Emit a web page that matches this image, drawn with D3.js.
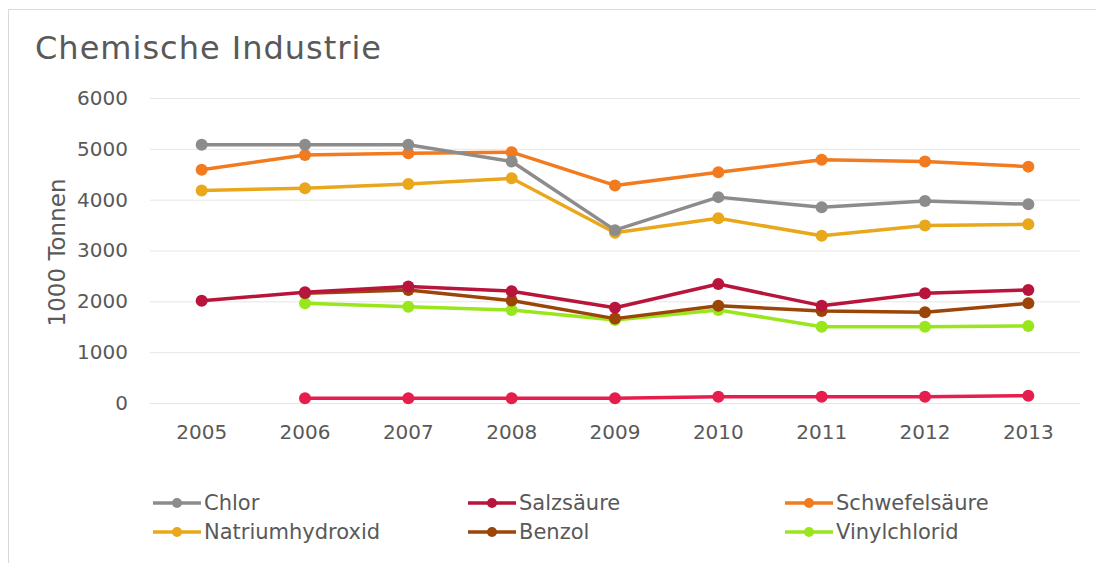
<!DOCTYPE html>
<html>
<head>
<meta charset="utf-8">
<script src="https://cdn.jsdelivr.net/npm/d3@7"></script>
<style>
  html, body { margin: 0; padding: 0; background: #ffffff; }
  svg { display: block; }
</style>
</head>
<body>
<svg id="chart" width="1096" height="563"></svg>
<script>
// Produktion der chemischen Industrie, in 1000 Tonnen
const years = ["2005", "2006", "2007", "2008", "2009", "2010", "2011", "2012", "2013"];
const yTicks = [0, 1000, 2000, 3000, 4000, 5000, 6000];

const chlor           = [5080, 5080, 5080, 4750, 3400, 4050, 3850, 3975, 3910];
const salzsaeure      = [2010, 2180, 2290, 2200, 1875, 2340, 1915, 2160, 2225];
const schwefelsaeure  = [4590, 4880, 4915, 4935, 4280, 4540, 4785, 4750, 4650];
const natriumhydroxid = [4180, 4225, 4310, 4420, 3350, 3635, 3290, 3490, 3515];
const benzol          = [null, 2160, 2225, 2015, 1660, 1915, 1810, 1785, 1960];
const vinylchlorid    = [null, 1960, 1895, 1830, 1635, 1830, 1500, 1500, 1515];
const weitere         = [null, 92, 92, 92, 92, 124, 124, 124, 144];

const series = [
  { name: "Chlor",           values: chlor,           color: "#8c8c8c", legend: true },
  { name: "Salzsäure",       values: salzsaeure,      color: "#b8143c", legend: true },
  { name: "Schwefelsäure",   values: schwefelsaeure,  color: "#f27a1f", legend: true },
  { name: "Natriumhydroxid", values: natriumhydroxid, color: "#e9a81c", legend: true },
  { name: "Benzol",          values: benzol,          color: "#9b4608", legend: true },
  { name: "Vinylchlorid",    values: vinylchlorid,    color: "#9ae61c", legend: true },
  { name: "Weitere",         values: weitere,         color: "#e61e4d", legend: false }
];

const svg = d3.select("#chart");
const font = "'DejaVu Sans', Verdana, sans-serif";

// Chart frame
svg.append("rect")
  .attr("x", 8.5).attr("y", 9.5)
  .attr("width", 1100).attr("height", 600)
  .attr("fill", "#ffffff")
  .attr("stroke", "#d9d9d9").attr("stroke-width", 1);

svg.append("text")
  .attr("x", 35).attr("y", 59)
  .attr("font-family", font).attr("font-size", 32)
  .attr("letter-spacing", 1)
  .attr("fill", "#595959")
  .text("Chemische Industrie");

const plot = { left: 150, right: 1080, top: 98, bottom: 403 };

const x = d3.scaleBand().domain(years).range([plot.left, plot.right]);
const y = d3.scaleLinear().domain([0, 6000]).range([plot.bottom, plot.top]);

// Gridlines
svg.append("g")
  .attr("transform", `translate(${plot.left},0)`)
  .call(d3.axisLeft(y).tickValues(yTicks).tickSize(-(plot.right - plot.left)).tickFormat(""))
  .call(g => g.select(".domain").remove())
  .call(g => g.selectAll("line").attr("stroke", "#e6e6e6").attr("stroke-width", 1));

// Y tick labels
svg.append("g")
  .attr("transform", `translate(${plot.left},0)`)
  .call(d3.axisLeft(y).tickValues(yTicks).tickSize(0).tickPadding(22).tickFormat(d3.format("d")))
  .call(g => g.select(".domain").remove())
  .call(g => g.selectAll("text")
    .attr("font-family", font).attr("font-size", 20).attr("fill", "#595959"));

// X tick labels
svg.append("g")
  .attr("transform", `translate(0,${plot.bottom})`)
  .call(d3.axisBottom(x).tickSize(0).tickPadding(22))
  .call(g => g.select(".domain").remove())
  .call(g => g.selectAll("text")
    .attr("font-family", font).attr("font-size", 20).attr("fill", "#595959"));

// Y axis title
svg.append("text")
  .attr("transform", `translate(57,${(plot.top + plot.bottom) / 2 + 2}) rotate(-90)`)
  .attr("text-anchor", "middle")
  .attr("dy", "0.35em")
  .attr("font-family", font).attr("font-size", 23)
  .attr("fill", "#595959")
  .text("1000 Tonnen");

const cx = d => x(d) + x.bandwidth() / 2;
const line = d3.line()
  .defined(d => d.v != null)
  .x(d => cx(d.year))
  .y(d => y(d.v));

// Draw series from the bottom of the stack upward so earlier entries sit on top
const drawOrder = series.slice().reverse();
drawOrder.forEach(s => {
  const pts = years.map((yr, i) => ({ year: yr, v: s.values[i] }));
  const g = svg.append("g");
  g.append("path")
    .datum(pts)
    .attr("fill", "none")
    .attr("stroke", s.color)
    .attr("stroke-width", 3.5)
    .attr("stroke-linejoin", "round")
    .attr("d", line);
  g.selectAll("circle")
    .data(pts.filter(d => d.v != null))
    .join("circle")
    .attr("cx", d => cx(d.year))
    .attr("cy", d => y(d.v))
    .attr("r", 6)
    .attr("fill", s.color);
});

// Legend: three columns, two rows
const legendItems = series.filter(s => s.legend);
const colX = [153, 468, 785];
const rowY = [503, 532];
legendItems.forEach((s, i) => {
  const lx = colX[i % 3];
  const ly = rowY[Math.floor(i / 3)];
  const g = svg.append("g").attr("transform", `translate(${lx},${ly})`);
  g.append("line")
    .attr("x1", 0).attr("x2", 48).attr("y1", 0).attr("y2", 0)
    .attr("stroke", s.color).attr("stroke-width", 3.5);
  g.append("circle")
    .attr("cx", 24).attr("cy", 0).attr("r", 5)
    .attr("fill", s.color);
  g.append("text")
    .attr("x", 51).attr("y", 0).attr("dy", "0.35em")
    .attr("font-family", font).attr("font-size", 21)
    .attr("fill", "#595959")
    .text(s.name);
});
</script>
</body>
</html>
